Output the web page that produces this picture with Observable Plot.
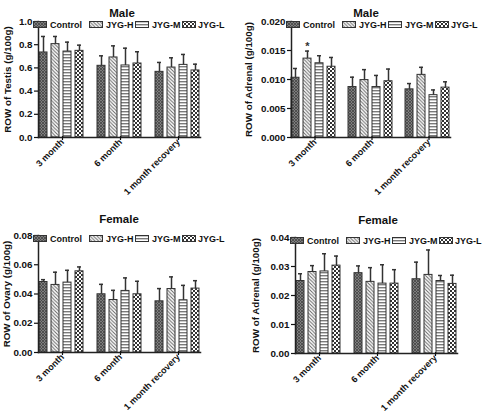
<!DOCTYPE html>
<html><head><meta charset="utf-8">
<script src="https://cdn.jsdelivr.net/npm/d3@7"></script>
<script src="https://cdn.jsdelivr.net/npm/@observablehq/plot@0.6"></script>
<style>
body{margin:0;background:#fff;font-family:"Liberation Sans",Arial,sans-serif;}
#root{position:relative;width:482px;height:415px;overflow:hidden;background:#fff}
.panel{position:absolute}
.title{position:absolute;font-weight:bold;font-size:11.5px;line-height:12px;color:#111;transform:translateX(-50%);white-space:nowrap}
.lgtext{position:absolute;font-weight:bold;font-size:9px;line-height:10px;color:#111;white-space:nowrap}
.sw{position:absolute;display:block}
</style></head>
<body>
<svg width="0" height="0" style="position:absolute">
  <defs>
    <pattern id="pControl" width="3" height="3" patternUnits="userSpaceOnUse">
      <rect width="3" height="3" fill="#7e7e7e"/>
      <path d="M0,0L3,3M3,0L0,3" stroke="#444" stroke-width="0.8"/>
    </pattern>
    <pattern id="pH" width="3.5" height="3.5" patternUnits="userSpaceOnUse">
      <rect width="3.5" height="3.5" fill="#fff"/>
      <path d="M-1,-1L4.5,4.5M-1,2.5L1,4.5M2.5,-1L4.5,1" stroke="#666" stroke-width="1"/>
    </pattern>
    <pattern id="pM" width="3" height="3" patternUnits="userSpaceOnUse">
      <rect width="3" height="3" fill="#fff"/>
      <rect y="0" width="3" height="1.4" fill="#7a7a7a"/>
    </pattern>
    <pattern id="pL" width="4" height="4" patternUnits="userSpaceOnUse">
      <rect width="4" height="4" fill="#fff"/>
      <rect x="0" y="0" width="2" height="2" fill="#333"/>
      <rect x="2" y="2" width="2" height="2" fill="#333"/>
    </pattern>
  </defs>
</svg>
<div id="root"></div>
<script>
const periods = ["3 month", "6 month", "1 month recovery"];
const groups = ["Control", "JYG-H", "JYG-M", "JYG-L"];

// rows = periods, columns = groups
const testisMaleMean = [[0.733, 0.805, 0.741, 0.747], [0.618, 0.690, 0.621, 0.638], [0.566, 0.603, 0.626, 0.578]];
const testisMaleSD   = [[0.138, 0.066, 0.081, 0.049], [0.086, 0.100, 0.149, 0.101], [0.081, 0.084, 0.090, 0.054]];

const adrenalMaleMean = [[0.0103, 0.0136, 0.0128, 0.0122], [0.0087, 0.0099, 0.0087, 0.0097], [0.0083, 0.0108, 0.0073, 0.0086]];
const adrenalMaleSD   = [[0.0016, 0.0013, 0.0013, 0.0016], [0.0017, 0.0018, 0.0020, 0.0021], [0.0010, 0.0013, 0.0009, 0.0010]];

const ovaryFemaleMean = [[0.0482, 0.0462, 0.0478, 0.0555], [0.0398, 0.0359, 0.0421, 0.0398], [0.0350, 0.0434, 0.0357, 0.0437]];
const ovaryFemaleSD   = [[0.0016, 0.0087, 0.0084, 0.0030], [0.0068, 0.0066, 0.0089, 0.0089], [0.0087, 0.0083, 0.0102, 0.0054]];

const adrenalFemaleMean = [[0.0250, 0.0281, 0.0283, 0.0303], [0.0277, 0.0247, 0.0241, 0.0241], [0.0256, 0.0271, 0.0250, 0.0240]];
const adrenalFemaleSD   = [[0.0025, 0.0022, 0.0061, 0.0033], [0.0025, 0.0049, 0.0065, 0.0048], [0.0059, 0.0086, 0.0019, 0.0030]];

const testisTicks = [0, 0.2, 0.4, 0.6, 0.8, 1.0];
const adrenalMaleTicks = [0, 0.005, 0.010, 0.015, 0.020];
const ovaryTicks = [0, 0.02, 0.04, 0.06, 0.08];
const adrenalFemaleTicks = [0, 0.01, 0.02, 0.03, 0.04];

const significance = [{period: "3 month", group: "JYG-H", mark: "*"}]; // male adrenal

const patternOf = {"Control": "url(#pControl)", "JYG-H": "url(#pH)", "JYG-M": "url(#pM)", "JYG-L": "url(#pL)"};

// legend item offsets from the frame's left edge (swatch, text)
const legendSwatchX = [2, 58, 104, 151];
const legendTextX = [19, 75, 121, 167];

const panels = [
  {title: "Male", label: "ROW of Testis (g/100g)", mean: testisMaleMean, sd: testisMaleSD, ticks: testisTicks, fmt: ".1f", stars: [],
   left: 0, top: 0, height: 200, mL: 31, mR: 35, mT: 21, mB: 63, labelOffset: 34, titleX: 122, titleY: 7},
  {title: "Male", label: "ROW of Adrenal (g/100g)", mean: adrenalMaleMean, sd: adrenalMaleSD, ticks: adrenalMaleTicks, fmt: ".3f", stars: significance,
   left: 241, top: 0, height: 200, mL: 43, mR: 25, mT: 21, mB: 63, labelOffset: 46, titleX: 366, titleY: 7},
  {title: "Female", label: "ROW of Ovary (g/100g)", mean: ovaryFemaleMean, sd: ovaryFemaleSD, ticks: ovaryTicks, fmt: ".2f", stars: [],
   left: 0, top: 200, height: 215, mL: 31, mR: 35, mT: 35, mB: 63, labelOffset: 35, titleX: 119, titleY: 213},
  {title: "Female", label: "ROW of Adrenal (g/100g)", mean: adrenalFemaleMean, sd: adrenalFemaleSD, ticks: adrenalFemaleTicks, fmt: ".2f", stars: [],
   left: 241, top: 200, height: 215, mL: 47, mR: 19, mT: 37, mB: 62, labelOffset: 43, titleX: 378, titleY: 214}
];

const root = document.getElementById("root");
const ns = "http://www.w3.org/2000/svg";

for (const p of panels) {
  const data = [];
  periods.forEach((per, i) => groups.forEach((g, j) => data.push({period: per, group: g, mean: p.mean[i][j], sd: p.sd[i][j]})));
  const starData = p.stars.map(s => {
    const d = data.find(d => d.period === s.period && d.group === s.group);
    return {...s, top: d.mean + d.sd};
  });
  const chart = Plot.plot({
    width: 241,
    height: p.height,
    marginLeft: p.mL, marginRight: p.mR, marginTop: p.mT, marginBottom: p.mB,
    style: {fontFamily: "'Liberation Sans', Arial, sans-serif", fontWeight: "bold", fontSize: "9.5px", color: "#111", background: "transparent", overflow: "visible"},
    fx: {domain: periods, paddingInner: 0.214, paddingOuter: 0.1, label: null},
    x: {domain: groups, paddingInner: 0.3, paddingOuter: 0, axis: null},
    y: {domain: [p.ticks[0], p.ticks[p.ticks.length - 1]]},
    color: {type: "identity"},
    marks: [
      Plot.barY(data, {fx: "period", x: "group", y: "mean", fill: d => patternOf[d.group], stroke: "#333", strokeWidth: 1}),
      Plot.ruleX(data, {fx: "period", x: "group", y1: "mean", y2: d => d.mean + d.sd, stroke: "#333", strokeWidth: 1.5}),
      Plot.tickY(data, {fx: "period", x: "group", y: d => d.mean + d.sd, stroke: "#333", strokeWidth: 1.5, insetLeft: 2, insetRight: 2}),
      Plot.text(starData, {fx: "period", x: "group", y: "top", text: "mark", dy: -5, fontSize: 11, fill: "#333"}),
      Plot.frame({anchor: "left", facet: "super", stroke: "#222", strokeWidth: 1.5}),
      Plot.frame({anchor: "bottom", facet: "super", stroke: "#222", strokeWidth: 1.5}),
      Plot.axisY({ticks: p.ticks, tickFormat: d3.format(p.fmt), tickSize: 4, tickPadding: 2, strokeWidth: 1.2, fontSize: 9.8,
        label: null}),
      Plot.axisY({ticks: [], tickSize: 0, label: p.label, labelAnchor: "center", labelArrow: "none", labelOffset: p.labelOffset, fontSize: 9.8}),
      Plot.axisFx({anchor: "bottom", tickRotate: -45, tickSize: 4, tickPadding: 0, dx: 1, dy: -1, label: null, fontSize: 9, strokeWidth: 1.2})
    ]
  });
  chart.classList.add("panel");
  chart.style.left = p.left + "px";
  chart.style.top = p.top + "px";
  root.appendChild(chart);

  const t = document.createElement("div");
  t.className = "title";
  t.textContent = p.title;
  t.style.left = p.titleX + "px";
  t.style.top = p.titleY + "px";
  root.appendChild(t);

  const fl = p.left + p.mL, ft = p.top + p.mT;
  groups.forEach((g, i) => {
    const sw = document.createElementNS(ns, "svg");
    sw.setAttribute("class", "sw");
    sw.setAttribute("width", 14); sw.setAttribute("height", 7);
    sw.style.left = (fl + legendSwatchX[i]) + "px";
    sw.style.top = (ft) + "px";
    const r = document.createElementNS(ns, "rect");
    r.setAttribute("x", 0.5); r.setAttribute("y", 0.5); r.setAttribute("width", 13); r.setAttribute("height", 6);
    r.setAttribute("fill", patternOf[g]); r.setAttribute("stroke", "#333"); r.setAttribute("stroke-width", 1);
    sw.appendChild(r);
    root.appendChild(sw);
    const s = document.createElement("div");
    s.className = "lgtext";
    s.textContent = g;
    s.style.left = (fl + legendTextX[i]) + "px";
    s.style.top = (ft - 1.5) + "px";
    root.appendChild(s);
  });
}
</script>
</body></html>
